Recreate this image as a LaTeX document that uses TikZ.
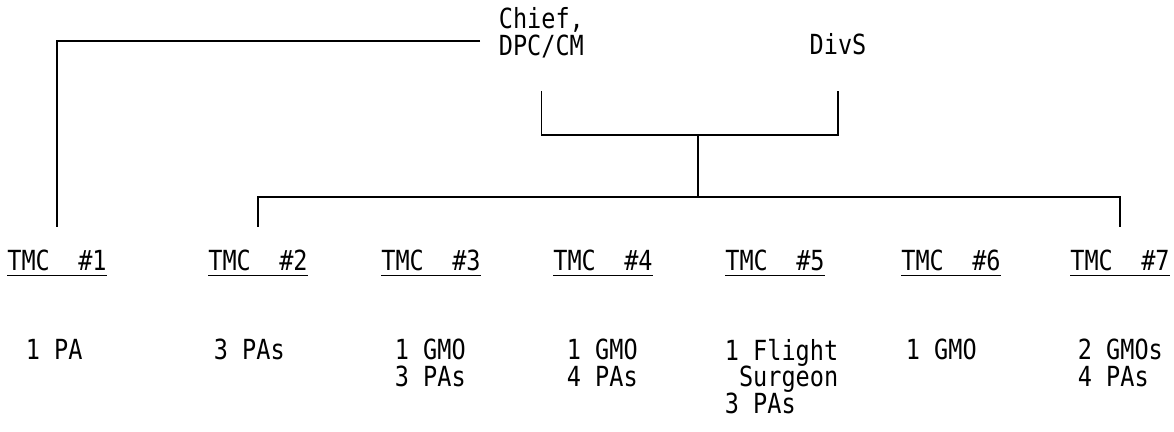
\documentclass[tikz,border=0pt]{standalone}
\usepackage{fontspec}
\setmonofont[FakeStretch=0.85]{DejaVu Sans Mono}
\usepackage{tikz}

\newsavebox{\tmcbox}
\newcommand{\tmclabel}[1]{\sbox{\tmcbox}{TMC~~\#{#1}}%
  \rlap{\rule[-4.5pt]{\wd\tmcbox}{1pt}}\usebox{\tmcbox}}

\begin{document}
\begin{tikzpicture}[line width=1.2pt,
  every node/.style={font=\ttfamily\fontsize{19.7}{19}\selectfont},
  head/.style={inner xsep=0.45cm, inner ysep=0.8cm},
  tmc/.style={anchor=base, inner xsep=0pt, inner ysep=0.545cm},
  staff/.style={anchor=north west, inner sep=0pt, align=left}]
\useasboundingbox (0,0) rectangle (29.35,-10.8);
% heads
\node[head, anchor=west, align=left] (chief) at (12.0,-0.82) {Chief,\\DPC/CM};
\node[head, anchor=base, inner ysep=0.87cm] (divs) at (20.95,-1.375) {DivS};
% teams
\node[tmc] (t1) at (1.425,-6.75) {\tmclabel{1}};
\node[tmc] (t2) at (6.45,-6.75) {\tmclabel{2}};
\node[tmc] (t3) at (10.775,-6.75) {\tmclabel{3}};
\node[tmc] (t4) at (15.075,-6.75) {\tmclabel{4}};
\node[tmc] (t5) at (19.375,-6.75) {\tmclabel{5}};
\node[tmc] (t6) at (23.775,-6.75) {\tmclabel{6}};
\node[tmc] (t7) at (28.0,-6.75) {\tmclabel{7}};
% staff of each team
\node[staff] (s1) at (0.625,-8.45) {1 PA};
\node[staff] (s2) at (5.325,-8.45) {3 PAs};
\node[staff] (s3) at (9.85,-8.45) {1 GMO\\3 PAs};
\node[staff] (s4) at (14.15,-8.45) {1 GMO\\4 PAs};
\node[staff] (s5) at (18.1,-8.45) {1 Flight\\~Surgeon\\3 PAs};
\node[staff] (s6) at (22.625,-8.45) {1 GMO};
\node[staff] (s7) at (26.925,-8.45) {2 GMOs\\4 PAs};
% lines
\coordinate (hub) at (17.45,-3.375);
\coordinate (bus) at (17.45,-4.925);
\draw ([yshift=-0.2cm]chief.west) -| (t1.north);
\draw (chief.south) |- (hub) -| (divs.south);
\draw (hub) -- (bus);
\draw (t2.north) |- (bus) -| (t7.north);
\end{tikzpicture}
\end{document}
